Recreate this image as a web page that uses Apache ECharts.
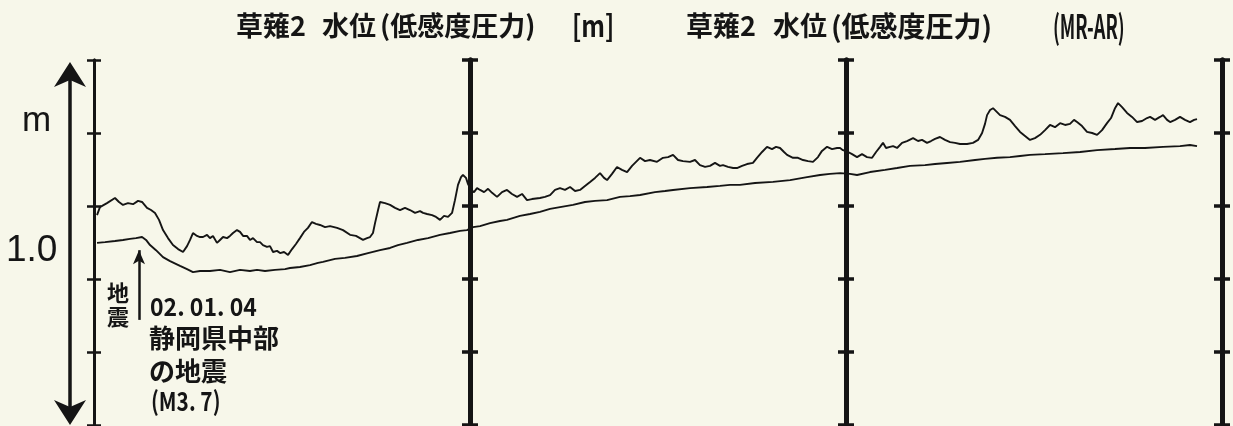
<!DOCTYPE html>
<html><head><meta charset="utf-8">
<script src="https://cdn.jsdelivr.net/npm/echarts@6/dist/echarts.min.js"></script>
<style>html,body{margin:0;padding:0;background:#f7f7ea}#c{width:1233px;height:426px}</style>
</head><body><div id="c"></div>
<script>
// ---- data ----
const titleParts1 = ['草薙2', '水位', '(低感度圧力)', '[m]'];
const titleParts2 = ['草薙2', '水位', '(低感度圧力)', '(MR-AR)'];
const panelBounds = [0, 31, 62, 93];          // days, panel separators
const yRange = [0, 1.0];                       // m
const yInterval = 0.2;
const scaleLabels = ['m', '1.0'];
const quakeDay = 3.71;
const quakeArrow = [0.288, 0.479];
const quakeTag = '地\n震';
const quakeText = ['02. 01. 04', '静岡県中部', 'の地震', '(M3. 7)'];

const levelDays = [0.25,0.49,1.07,1.73,2.06,2.39,2.80,3.22,3.63,3.96,4.37,4.70,5.03,5.36,5.69,6.10,6.51,6.93,7.34,7.67,7.92,8.16,8.49,8.74,8.99,9.32,9.56,9.81,10.14,10.39,10.64,10.97,11.21,11.46,11.79,12.04,12.29,12.61,12.86,13.11,13.44,13.69,13.93,14.26,14.51,14.76,15.09,15.34,15.67,16.00,16.33,16.65,16.98,17.31,17.64,17.97,18.30,18.63,19.05,19.46,20.04,20.53,21.11,21.60,22.18,22.51,22.76,23.00,23.17,23.42,23.58,23.99,24.41,24.82,25.23,25.64,26.05,26.47,26.88,27.13,27.46,27.87,28.20,28.53,28.86,29.19,29.52,29.76,30.01,30.26,30.42,30.67,30.84,31.08,31.33,31.58,31.83,32.16,32.49,32.82,33.23,33.64,34.05,34.46,34.88,35.29,35.70,36.11,36.77,37.18,37.60,38.01,38.42,38.83,39.25,39.66,40.07,40.48,40.90,41.31,41.72,42.05,42.30,42.71,43.12,43.53,43.95,44.36,44.69,45.02,45.43,45.84,46.42,46.91,47.33,47.74,48.15,48.56,49.14,49.55,49.96,50.38,50.79,51.20,51.61,51.86,52.27,52.69,53.01,53.43,53.84,54.33,54.66,55.08,55.49,55.90,56.23,56.56,56.89,57.14,57.63,58.04,58.46,58.87,59.28,59.69,60.02,60.44,60.85,61.26,61.51,61.75,62.17,62.50,62.91,63.32,63.73,64.15,64.48,64.81,65.05,65.30,65.63,65.88,66.21,66.62,67.03,67.53,67.94,68.27,68.68,69.01,69.34,69.75,70.16,70.58,70.99,71.40,71.98,72.47,72.89,73.22,73.46,73.63,73.88,74.12,74.37,74.70,75.11,75.52,75.94,76.35,76.76,77.17,77.58,78.00,78.41,78.82,79.23,79.65,80.06,80.47,80.80,81.05,81.46,81.87,82.29,82.70,83.11,83.52,83.85,84.18,84.43,84.76,85.17,85.58,86.00,86.41,86.82,87.07,87.48,87.89,88.14,88.47,88.72,89.13,89.54,89.95,90.36,90.70,90.94];
const levelValues = [.575,.597,.608,.622,.611,.603,.608,.605,.614,.611,.595,.589,.581,.562,.534,.512,.493,.482,.474,.490,.507,.526,.518,.515,.515,.521,.512,.518,.499,.507,.515,.512,.518,.526,.534,.529,.518,.518,.507,.512,.501,.501,.493,.488,.490,.474,.477,.471,.474,.466,.482,.496,.512,.529,.540,.556,.551,.548,.542,.545,.540,.534,.521,.518,.507,.512,.515,.526,.553,.589,.611,.608,.603,.595,.589,.595,.589,.581,.586,.581,.578,.575,.570,.562,.573,.570,.581,.616,.658,.679,.685,.677,.660,.644,.638,.649,.644,.638,.647,.636,.625,.638,.644,.633,.625,.633,.616,.619,.622,.625,.630,.644,.649,.644,.652,.641,.644,.655,.666,.677,.690,.677,.671,.688,.707,.699,.693,.710,.721,.732,.723,.726,.721,.732,.734,.740,.726,.723,.721,.726,.712,.707,.710,.718,.710,.712,.707,.704,.704,.710,.715,.718,.732,.748,.762,.756,.762,.759,.748,.740,.732,.732,.726,.723,.721,.734,.751,.762,.756,.759,.759,.753,.748,.742,.734,.742,.734,.732,.748,.762,.773,.759,.762,.764,.759,.773,.778,.786,.778,.781,.773,.778,.784,.789,.781,.775,.773,.770,.770,.773,.781,.800,.825,.849,.863,.868,.860,.849,.844,.836,.819,.803,.792,.781,.786,.795,.808,.822,.816,.827,.822,.825,.836,.830,.819,.803,.800,.795,.808,.827,.841,.868,.882,.871,.855,.844,.830,.833,.841,.844,.836,.844,.849,.836,.830,.836,.844,.836,.830,.836,.838];

const mrarDays = [0.25,0.91,1.73,2.39,2.97,3.46,3.96,4.29,4.62,5.11,5.69,6.27,7.09,7.67,8.16,8.74,9.56,10.39,11.21,12.04,12.86,13.44,14.10,14.92,15.75,16.16,16.98,17.81,18.47,18.88,19.87,20.69,21.68,22.59,23.58,24.41,25.06,25.81,26.71,27.54,28.53,29.35,30.18,30.75,31.25,31.83,32.65,33.47,34.05,35.12,35.95,36.77,37.60,38.42,39.49,40.48,41.31,42.30,43.37,44.19,45.02,46.25,47.08,47.74,49.14,50.54,51.61,52.44,53.26,54.50,55.98,57.39,58.79,59.86,60.68,61.51,62.33,62.91,63.98,65.22,66.21,67.28,68.51,69.34,70.33,71.40,72.64,73.46,74.45,75.52,76.35,77.17,78.41,79.89,81.30,82.70,84.18,85.42,86.65,88.14,89.54,90.36,90.94];
const mrarValues = [.499,.501,.504,.507,.510,.512,.515,.507,.493,.479,.460,.449,.436,.427,.419,.422,.422,.425,.419,.425,.422,.425,.422,.425,.427,.430,.433,.438,.444,.447,.455,.458,.463,.471,.479,.485,.493,.499,.507,.512,.521,.526,.532,.534,.542,.545,.553,.559,.562,.573,.578,.584,.592,.597,.603,.611,.614,.616,.625,.627,.630,.638,.641,.644,.649,.652,.655,.658,.658,.663,.666,.671,.679,.685,.688,.690,.688,.685,.693,.699,.704,.710,.712,.715,.718,.721,.726,.729,.732,.734,.737,.740,.742,.745,.748,.753,.756,.759,.759,.762,.764,.767,.764];

// ---- chart ----
const zip = (a, b) => a.map((x, i) => [x, b[i]]);
const INK = '#151515';
const JP = '"Noto Sans CJK JP", sans-serif';
const LAT = '"Liberation Sans", Arial, sans-serif';

function barAxis(position, offset, inside, w, tw, len) {
  return {
    type: 'value', min: yRange[0], max: yRange[1], interval: yInterval,
    position: position, offset: offset,
    axisLine: { show: true, lineStyle: { color: INK, width: w } },
    axisTick: { show: true, inside: inside, length: len, lineStyle: { color: INK, width: tw } },
    axisLabel: { show: false }, splitLine: { show: false }
  };
}
const panelPx = 1128 / (panelBounds[3] - panelBounds[0]);
const yAxes = [];
panelBounds.forEach((d, i) => {
  const pos = i === panelBounds.length - 1 ? 'right' : 'left';
  const o = pos === 'right' ? 0 : -(d - panelBounds[0]) * panelPx;
  const w = i === 0 ? 3 : 5;
  const tw = i === 0 ? 2.5 : 3.5;
  const len = i === 0 ? 7 : 8;
  yAxes.push(barAxis(pos, o, true, w, tw, len));
  yAxes.push(barAxis(pos, o, false, w, tw, len));
});

function txt(x, y, text, size, family, extra, elExtra) {
  return Object.assign({
    type: 'text', x: x, y: y, silent: true,
    style: Object.assign({ text: text, fontSize: size, fontFamily: family, fill: INK,
      textAlign: 'left', textVerticalAlign: 'middle', align: 'left', verticalAlign: 'middle' }, extra || {})
  }, elExtra || {});
}
const B = { fontWeight: 'bold' };

const graphics = [
  // titles
  txt(236, 26, titleParts1[0], 27, JP, B),
  txt(322, 26, titleParts1[1], 27, JP, B),
  txt(380, 26, titleParts1[2], 27, JP, B),
  txt(572, 26, titleParts1[3], 30, JP, B, { scaleX: 0.82 }),
  txt(686, 26, titleParts2[0], 27, JP, B),
  txt(773, 26, titleParts2[1], 27, JP, B),
  txt(831, 26, titleParts2[2], 28, JP, B),
  txt(1053, 26, titleParts2[3], 33, JP, B, { scaleX: 0.55 }),
  // scale arrow
  { type: 'line', silent: true, shape: { x1: 70, y1: 75, x2: 70, y2: 412 }, style: { stroke: INK, lineWidth: 3.5 } },
  { type: 'polygon', silent: true, shape: { points: [[70, 62], [86, 87], [70, 80], [54, 87]] }, style: { fill: INK } },
  { type: 'polygon', silent: true, shape: { points: [[70, 425], [86, 400], [70, 407], [54, 400]] }, style: { fill: INK } },
  txt(22, 121, scaleLabels[0], 35, LAT),
  txt(6, 251, scaleLabels[1], 37, LAT),
  // quake annotation
  txt(107, 305, quakeTag, 22, JP, { lineHeight: 24, fontWeight: 'bold' }),
  txt(150, 306, quakeText[0], 25, JP, { fontWeight: 'bold' }, { scaleX: 0.92 }),
  txt(149, 338, quakeText[1], 26, JP, { fontWeight: 'bold' }),
  txt(149, 371, quakeText[2], 26, JP, { fontWeight: 'bold' }),
  txt(151, 401, quakeText[3], 26, JP, { fontWeight: 'bold' }, { scaleX: 0.8 })
];

const chart = echarts.init(document.getElementById('c'), null, { renderer: 'canvas' });
chart.setOption({
  backgroundColor: '#f7f7ea',
  animation: false,
  grid: { left: 94, right: 11, top: 60, bottom: 1, containLabel: false },
  xAxis: { type: 'value', min: panelBounds[0], max: panelBounds[3], show: false },
  yAxis: yAxes,
  series: [
    { name: titleParts1.join(' '), type: 'line', data: zip(levelDays, levelValues), showSymbol: false,
      lineStyle: { color: INK, width: 1.9 }, z: 3 },
    { name: titleParts2.join(' '), type: 'line', data: zip(mrarDays, mrarValues), showSymbol: false,
      lineStyle: { color: INK, width: 1.9 }, z: 3,
      markLine: { silent: true, symbol: ['none', 'arrow'], symbolSize: [9, 14],
        label: { show: false }, lineStyle: { color: INK, width: 2.5, type: 'solid' },
        data: [[{ coord: [quakeDay, quakeArrow[0]] }, { coord: [quakeDay, quakeArrow[1]] }]] } }
  ],
  graphic: graphics
});
</script></body></html>
